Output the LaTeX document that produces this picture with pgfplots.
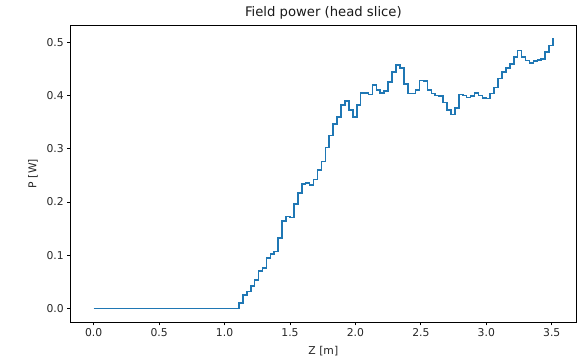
\documentclass[border=0pt]{standalone}
\usepackage{fontspec}
\setmainfont{DejaVu Sans}
\usepackage{pgfplots}
\pgfplotsset{compat=1.18}
\definecolor{mplblue}{RGB}{31,119,180}
\begin{document}
\begin{tikzpicture}
\begin{axis}[
  scale only axis,
  width=505.3pt, height=297pt,
  xmin=-0.1755, xmax=3.6855,
  ymin=-0.02535, ymax=0.53235,
  xtick={0,0.5,1,1.5,2,2.5,3,3.5},
  ytick={0,0.1,0.2,0.3,0.4,0.5},
  xticklabel style={/pgf/number format/fixed,/pgf/number format/fixed zerofill,/pgf/number format/precision=1},
  yticklabel style={/pgf/number format/fixed,/pgf/number format/fixed zerofill,/pgf/number format/precision=1},
  /pgf/number format/assume math mode=true,
  tick pos=left,
  tick align=outside,
  major tick length=3.4pt,
  every tick/.style={black, line width=0.77pt},
  axis line style={line width=0.77pt, black},
  ticklabel style={font=\fontsize{10.8}{13}\selectfont, text=black!85},
  label style={font=\fontsize{10.8}{13}\selectfont, text=black!85},
  title style={font=\fontsize{13.2}{15.8}\selectfont, text=black!90, at={(axis description cs:0.5,1.0404)}, anchor=center, yshift=-6pt},
  xlabel style={at={(axis description cs:0.5,-0.0993)}, anchor=center},
  ylabel style={at={(axis description cs:-0.0746,0.5)}, anchor=center},
  title={Field power (head slice)},
  xlabel={Z [m]},
  ylabel={P [W]},
]
\addplot[const plot, color=mplblue, line width=1.6pt] coordinates {
(0.00,0) (1.11,0.010) (1.14,0.025) (1.17,0.032) (1.20,0.042) (1.23,0.054)
(1.26,0.070) (1.29,0.0765) (1.32,0.0945) (1.35,0.1026) (1.38,0.107) (1.41,0.132)
(1.44,0.164) (1.47,0.173) (1.50,0.171) (1.53,0.196) (1.56,0.217) (1.59,0.234)
(1.62,0.236) (1.65,0.232) (1.68,0.242) (1.71,0.260) (1.74,0.276) (1.77,0.302)
(1.80,0.325) (1.83,0.346) (1.86,0.360) (1.89,0.382) (1.92,0.390) (1.95,0.373)
(1.98,0.360) (2.01,0.382) (2.04,0.405) (2.07,0.405) (2.10,0.402) (2.13,0.420)
(2.16,0.410) (2.19,0.405) (2.22,0.408) (2.25,0.425) (2.28,0.444) (2.31,0.457)
(2.34,0.452) (2.37,0.422) (2.40,0.404) (2.43,0.404) (2.46,0.410) (2.49,0.428)
(2.52,0.427) (2.55,0.410) (2.58,0.4035) (2.61,0.400) (2.64,0.399) (2.67,0.387)
(2.70,0.3725) (2.73,0.364) (2.76,0.376) (2.79,0.402) (2.82,0.400) (2.85,0.396)
(2.88,0.3985) (2.91,0.405) (2.94,0.400) (2.97,0.3955) (3.00,0.394) (3.03,0.4035)
(3.06,0.415) (3.09,0.4315) (3.12,0.4445) (3.15,0.452) (3.18,0.459) (3.21,0.472)
(3.24,0.4845) (3.27,0.472) (3.30,0.466) (3.33,0.461) (3.36,0.4645) (3.39,0.4665)
(3.42,0.469) (3.45,0.4815) (3.48,0.494) (3.51,0.507)
};
\end{axis}
\pgfresetboundingbox
\path ([shift={(-70.7pt,-36pt)}]current axis.south west) rectangle ([shift={(9pt,25pt)}]current axis.north east);
\end{tikzpicture}
\end{document}
